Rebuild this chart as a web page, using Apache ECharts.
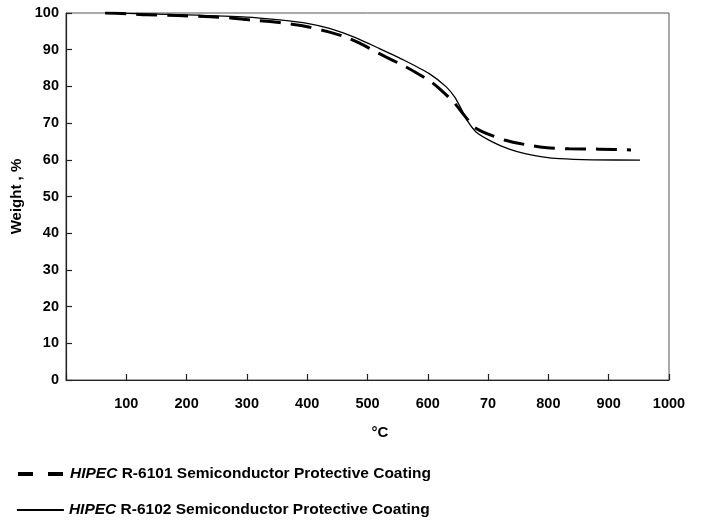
<!DOCTYPE html>
<html>
<head>
<meta charset="utf-8">
<script src="https://cdn.jsdelivr.net/npm/echarts@6/dist/echarts.min.js"></script>
<style>html,body{margin:0;padding:0;background:#fff}#c{width:702px;height:520px}</style>
</head>
<body>
<div id="c"></div>
<script>
// R-6101 (dashed)
const tempA   = [65, 100, 134, 185, 240, 277, 300, 354, 396, 437, 465, 487, 512, 531, 558, 578, 606, 622, 644, 660, 677, 697, 727, 760, 798, 834, 884, 937];
const weightA = [100, 99.8, 99.5, 99.3, 99.0, 98.6, 98.2, 97.4, 96.4, 94.8, 93.4, 91.8, 89.6, 88.0, 85.8, 84.0, 81.2, 79.0, 75.5, 72.2, 68.9, 67.2, 65.4, 64.2, 63.3, 63.0, 62.9, 62.7];
// R-6102 (solid)
const tempB   = [65, 100, 200, 300, 354, 400, 437, 480, 520, 560, 603, 631, 645, 655, 665, 680, 707, 735, 763, 790, 818, 873, 952];
const weightB = [100, 99.9, 99.5, 98.9, 98.1, 97.2, 95.8, 93.3, 90.3, 87.2, 83.4, 79.8, 77.0, 74.0, 70.8, 67.6, 64.9, 62.9, 61.6, 60.8, 60.3, 60.0, 59.9];

const seriesNames = ['HIPEC R-6101 Semiconductor Protective Coating', 'HIPEC R-6102 Semiconductor Protective Coating'];
const xTickValues = [100, 200, 300, 400, 500, 600, 700, 800, 900, 1000];
const xTickLabels = ['100', '200', '300', '400', '500', '600', '70', '800', '900', '1000'];
const yTickValues = [0, 10, 20, 30, 40, 50, 60, 70, 80, 90, 100];

const FONT = 'Liberation Sans, Arial, sans-serif';
const chart = echarts.init(document.getElementById('c'));
const zip = (xs, ys) => xs.map((x, i) => [x, ys[i]]);

const legendText = {
  fontFamily: FONT, fontSize: 15.5, fontWeight: 'bold', color: '#000',
  rich: { i: { fontFamily: FONT, fontSize: 15.5, fontWeight: 'bold', fontStyle: 'italic', color: '#000' } }
};
const legendFmt = n => n.replace('HIPEC ', '{i|HIPEC} ');

chart.setOption({
  animation: false,
  backgroundColor: '#fff',
  grid: { left: 66, right: 33, top: 13, bottom: 140, show: true, borderColor: '#555', borderWidth: 1 },
  xAxis: {
    type: 'value', min: 0, max: 1000, interval: 100,
    name: '°C', nameLocation: 'middle', nameGap: 45,
    nameTextStyle: { fontFamily: FONT, fontSize: 15, fontWeight: 'bold', color: '#000', padding: [0, 0, 0, 25] },
    axisLine: { show: true, lineStyle: { color: '#222', width: 1.2 } },
    axisTick: { show: true, inside: true, length: 6, lineStyle: { color: '#222', width: 1.2 } },
    splitLine: { show: false },
    axisLabel: {
      margin: 16, fontFamily: FONT, fontSize: 14.5, fontWeight: 'bold', color: '#000',
      formatter: v => { const i = xTickValues.indexOf(v); return i >= 0 ? xTickLabels[i] : ''; }
    }
  },
  yAxis: {
    type: 'value', min: 0, max: 100, interval: 10,
    name: 'Weight , %', nameLocation: 'middle', nameGap: 42, nameRotate: 90,
    nameTextStyle: { fontFamily: FONT, fontSize: 15, fontWeight: 'bold', color: '#000' },
    axisLine: { show: true, lineStyle: { color: '#222', width: 1.2 } },
    axisTick: { show: true, inside: true, length: 6, lineStyle: { color: '#222', width: 1.2 } },
    splitLine: { show: false },
    axisLabel: {
      margin: 7, fontFamily: FONT, fontSize: 14.5, fontWeight: 'bold', color: '#000',
      formatter: v => yTickValues.indexOf(v) >= 0 ? String(v) : ''
    }
  },
  legend: [
    {
      left: 11, top: 461, itemWidth: 47, itemHeight: 16,
      itemStyle: { opacity: 0 },
      data: [{ name: seriesNames[0], lineStyle: { width: 4, type: [15, 15], color: '#000' } }],
      textStyle: legendText, formatter: legendFmt
    },
    {
      left: 11, top: 497, itemWidth: 47, itemHeight: 16,
      itemStyle: { opacity: 0 },
      data: [{ name: seriesNames[1], lineStyle: { width: 1.8, type: 'solid', color: '#000' } }],
      textStyle: legendText, formatter: legendFmt
    }
  ],
  series: [
    {
      name: seriesNames[0], type: 'line', data: zip(tempA, weightA), symbol: 'none',
      smooth: 0.2, color: '#000',
      lineStyle: { color: '#000', width: 3, type: [21, 10] }
    },
    {
      name: seriesNames[1], type: 'line', data: zip(tempB, weightB), symbol: 'none',
      smooth: 0.2, color: '#000',
      lineStyle: { color: '#000', width: 1.3, type: 'solid' }
    }
  ]
});
</script>
</body>
</html>
